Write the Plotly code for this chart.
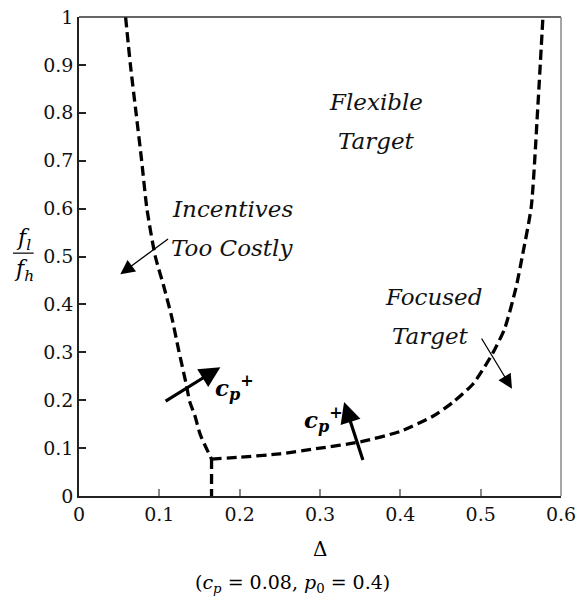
import plotly.graph_objects as go

# Boundary between "Incentives Too Costly" and the target regions
left_delta = [0.058, 0.064, 0.071, 0.078, 0.0845, 0.095, 0.105, 0.1155, 0.124,
              0.133, 0.138, 0.144, 0.151, 0.165]
left_ratio = [1.0, 0.9, 0.8, 0.7, 0.6, 0.5, 0.441, 0.373, 0.305,
              0.237, 0.196, 0.169, 0.128, 0.077]

# Vertical segment below the kink
stem_delta = [0.165, 0.165]
stem_ratio = [0.077, 0.0]

# Boundary between "Focused Target" and "Flexible Target"
right_delta = [0.165, 0.2, 0.25, 0.3, 0.35, 0.4, 0.44, 0.465, 0.491, 0.515,
               0.53, 0.544, 0.552, 0.563, 0.571, 0.5775]
right_ratio = [0.077, 0.081, 0.088, 0.1, 0.113, 0.135, 0.166, 0.195, 0.235, 0.298,
               0.35, 0.435, 0.502, 0.604, 0.808, 1.0]

x_ticks = [0, 0.1, 0.2, 0.3, 0.4, 0.5, 0.6]
x_tick_text = ["0", "0.1", "0.2", "0.3", "0.4", "0.5", "0.6"]
y_ticks = [0, 0.1, 0.2, 0.3, 0.4, 0.5, 0.6, 0.7, 0.8, 0.9, 1]
y_tick_text = ["0", "0.1", "0.2", "0.3", "0.4", "0.5", "0.6", "0.7", "0.8", "0.9", "1"]

# Region labels: (text, delta, ratio)
region_labels = [
    ("Flexible", 0.37, 0.823),
    ("Target", 0.37, 0.742),
    ("Incentives", 0.191, 0.6),
    ("Too Costly", 0.191, 0.518),
    ("Focused", 0.441, 0.415),
    ("Target", 0.438, 0.335),
]

# Thin direction arrows: (tail delta, tail ratio, head delta, head ratio)
thin_arrows = [
    (0.1127, 0.539, 0.0514, 0.463),
    (0.500, 0.332, 0.539, 0.224),
]
# Thick c_p+ arrows
thick_arrows = [
    (0.106, 0.196, 0.176, 0.269),
    (0.354, 0.072, 0.330, 0.196),
]
# c_p+ label positions (delta, ratio)
cp_labels = [(0.167, 0.227), (0.277, 0.16)]

SERIF = "DejaVu Serif"
dash = "10px,5px"

fig = go.Figure()
for xs, ys, shape in [(left_delta, left_ratio, "spline"),
                      (stem_delta, stem_ratio, "linear"),
                      (right_delta, right_ratio, "spline")]:
    fig.add_trace(go.Scatter(
        x=xs, y=ys, mode="lines",
        line=dict(color="black", width=3.3, dash=dash, shape=shape, smoothing=0.6),
        showlegend=False, hoverinfo="skip"))

annotations = []
for text, x, y in region_labels:
    annotations.append(dict(
        x=x, y=y, xref="x", yref="y", text=f"<i>{text}</i>", showarrow=False,
        font=dict(family=SERIF, size=23, color="#111"),
        xanchor="center", yanchor="middle"))

for tx, ty, hx, hy in thin_arrows:
    annotations.append(dict(
        x=hx, y=hy, ax=tx, ay=ty, xref="x", yref="y", axref="x", ayref="y",
        text="", showarrow=True, arrowhead=2, arrowsize=2.2, arrowwidth=1.3,
        arrowcolor="black", standoff=0, startstandoff=0))

for tx, ty, hx, hy in thick_arrows:
    annotations.append(dict(
        x=hx, y=hy, ax=tx, ay=ty, xref="x", yref="y", axref="x", ayref="y",
        text="", showarrow=True, arrowhead=2, arrowsize=1.3, arrowwidth=3.2,
        arrowcolor="black", standoff=0, startstandoff=0))

for x, y in cp_labels:
    annotations.append(dict(
        x=x, y=y, xref="x", yref="y",
        text="<b><i>c</i></b><sub><b><i>p</i></b></sub><sup><b>+</b></sup>",
        showarrow=False, font=dict(family=SERIF, size=23, color="black"),
        xanchor="left", yanchor="middle"))

# y-axis label as a stacked fraction f_l / f_h
annotations.append(dict(
    x=-0.115, y=0.535, xref="paper", yref="paper",
    text="<i>f<sub>l</sub></i>", showarrow=False,
    font=dict(family=SERIF, size=22, color="black"),
    xanchor="center", yanchor="middle"))
annotations.append(dict(
    x=-0.115, y=0.47, xref="paper", yref="paper",
    text="<i>f<sub>h</sub></i>", showarrow=False,
    font=dict(family=SERIF, size=22, color="black"),
    xanchor="center", yanchor="middle"))

# x-axis label and parameter note
annotations.append(dict(
    x=0.5, y=-0.11, xref="paper", yref="paper", text="Δ", showarrow=False,
    font=dict(family=SERIF, size=20, color="black"),
    xanchor="center", yanchor="middle"))
annotations.append(dict(
    x=0.443, y=-0.183, xref="paper", yref="paper",
    text="(<i>c<sub>p</sub></i> = 0.08, <i>p</i><sub>0</sub> = 0.4)", showarrow=False,
    font=dict(family=SERIF, size=19, color="black"),
    xanchor="center", yanchor="middle"))

shapes = [
    # fraction bar
    dict(type="line", xref="paper", yref="paper", x0=-0.137, x1=-0.094,
         y0=0.507, y1=0.507, line=dict(color="black", width=1.2)),
    # top and right frame
    dict(type="line", xref="paper", yref="paper", x0=0, x1=1, y0=1, y1=1,
         line=dict(color="#333", width=1.5)),
    dict(type="line", xref="paper", yref="paper", x0=1, x1=1, y0=0, y1=1,
         line=dict(color="#888", width=1.5)),
]

fig.update_layout(
    width=582, height=600,
    margin=dict(l=79, r=13, t=6, b=104),
    plot_bgcolor="white", paper_bgcolor="white",
    font=dict(family=SERIF, size=19, color="black"),
    annotations=annotations, shapes=shapes,
)
fig.update_xaxes(
    range=[0, 0.6], tickvals=x_ticks, ticktext=x_tick_text,
    ticks="inside", ticklen=7, tickcolor="#888", tickwidth=1.5,
    showline=True, linecolor="#222", linewidth=1.5,
    showgrid=False, zeroline=False, ticklabeloverflow="allow",
    tickfont=dict(family=SERIF, size=19, color="#111"))
fig.update_yaxes(
    range=[0, 1], tickvals=y_ticks, ticktext=y_tick_text,
    ticks="inside", ticklen=7, tickcolor="#222", tickwidth=1.5,
    showline=True, linecolor="#222", linewidth=1.5,
    showgrid=False, zeroline=False, ticklabeloverflow="allow",
    tickfont=dict(family=SERIF, size=19, color="#111"))

fig.write_html("out.html")
